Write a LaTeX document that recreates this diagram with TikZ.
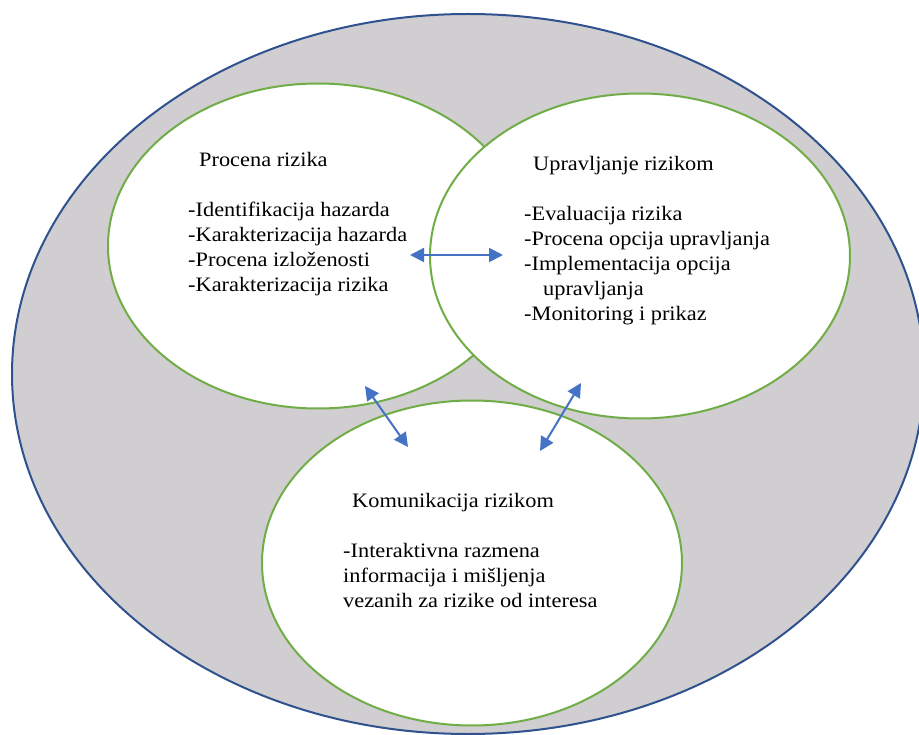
\documentclass[tikz,border=0pt]{standalone}
\usepackage{fontspec}
\setmainfont{Liberation Serif}[FakeStretch=1.09]
\usetikzlibrary{shapes.geometric, arrows.meta}
\definecolor{ringblue}{RGB}{47,82,143}
\definecolor{ringgreen}{RGB}{112,173,71}
\definecolor{arrowblue}{RGB}{68,114,196}
\definecolor{fieldgray}{RGB}{208,206,208}
\tikzstyle{field} = [ellipse, draw=ringblue, fill=fieldgray, line width=2pt,
    minimum width=912pt, minimum height=720pt]
\tikzstyle{bubble} = [ellipse, draw=ringgreen, fill=white, line width=2pt,
    minimum width=420pt, minimum height=325pt]
\tikzstyle{itemtext} = [anchor=north west, inner sep=0pt, align=left,
    font=\fontsize{20.5}{25}\selectfont]
\tikzstyle{line} = [draw=arrowblue, line width=2pt,
    {Triangle[length=14pt,width=14pt]}-{Triangle[length=14pt,width=14pt]}]

\begin{document}
\begin{tikzpicture}[x=1pt, y=-1pt]
    \useasboundingbox (0,0) rectangle (919,735);
    \clip (0,0) rectangle (919,735);
    % Place nodes
    \node [field] (polje) at (468,374) {};
    \node [bubble] (procena) at (318,246) {};
    \node [bubble] (upravljanje) at (640,256) {};
    \node [bubble] (komunikacija) at (472,563) {};
    \node [itemtext] (procenaTxt) at (188,152) {\hspace*{11pt}Procena rizika\\[25pt]
        -Identifikacija hazarda\\
        -Karakterizacija hazarda\\
        -Procena izloženosti\\
        -Karakterizacija rizika};
    \node [itemtext] (upravljanjeTxt) at (524,156) {\hspace*{9pt}Upravljanje rizikom\\[25pt]
        -Evaluacija rizika\\
        -Procena opcija upravljanja\\
        -Implementacija opcija\\
        \hspace*{19pt}upravljanja\\
        -Monitoring i prikaz};
    \node [itemtext] (komunikacijaTxt) at (343,493) {\hspace*{9pt}Komunikacija rizikom\\[25pt]
        -Interaktivna razmena\\
        informacija i mišljenja\\
        vezanih za rizike od interesa};
    % Arrow ends
    \coordinate (peKraj) at (410,255);
    \coordinate (upKraj) at (503,255);
    \coordinate (peDole) at (365,386);
    \coordinate (koLevo) at (408,447);
    \coordinate (upDole) at (581,383);
    \coordinate (koDesno) at (540,451);
    % Draw edges
    \path [line] (peKraj) -- (upKraj);
    \path [line] (peDole) -- (koLevo);
    \path [line] (upDole) -- (koDesno);
\end{tikzpicture}
\end{document}
